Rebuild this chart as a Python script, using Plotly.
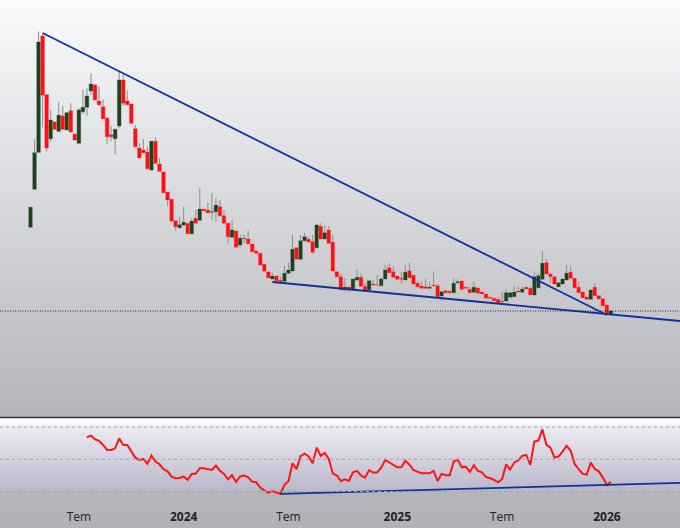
import pandas as pd
import plotly.graph_objects as go

open_px = [190.7, 228.7, 265.7, 382, 323.3, 279.3, 296, 286.7, 302, 288,
           307.3, 284, 274.7, 306.3, 310.7, 327, 333, 317, 311.3, 300,
           283.3, 279.3, 292, 338, 317, 314, 289.3, 270, 268, 266,
           248, 276.7, 254, 246, 226, 218.7, 197.3, 190.3, 193, 194.7,
           184.3, 199.7, 197.7, 208.7, 208, 205.7, 206.3, 211.3, 202.3, 194.7,
           180.7, 187, 173, 179.7, 179, 174, 167, 164.7, 153.7, 146,
           139, 142, 137.7, 136.7, 144.7, 147, 170.3, 158.7, 177.3, 178.7,
           176.3, 170.3, 191.7, 179, 188, 175.7, 146.3, 141.3, 128, 131,
           128, 138, 140.7, 131.7, 128, 134, 133.3, 132.3, 139, 150.3,
           146.3, 142, 139.7, 138, 147.3, 142.7, 134.7, 132, 131.3, 129.7,
           133, 132.3, 122, 127.3, 126.7, 125.3, 135.3, 137, 130.7, 128.7,
           125.7, 130, 126, 124, 120.7, 119.7, 118.7, 116.7, 117, 120.7,
           121.3, 127, 125.7, 130.7, 129.7, 123, 130.3, 138.7, 155.3, 144,
           141.3, 131.3, 134, 138, 145.7, 139.7, 130.7, 126, 121, 118.7,
           130.7, 122.3, 119.3, 113, 103.3]
close_px = [210.7, 265.3, 376, 322.7, 270, 298, 288.7, 302.7, 288.7, 305.3,
            286, 278, 308, 310.7, 322, 334, 318, 313.3, 299.3, 281.3,
            281.3, 288.7, 338, 314.7, 313.3, 294.7, 271.3, 260.3, 265.3, 249.3,
            276.7, 254.7, 246.7, 225.3, 218, 197, 191.3, 193.3, 195.7, 184.3,
            197, 194.7, 209, 207.3, 205.3, 206.3, 213, 202.3, 194.7, 181.3,
            188, 170.7, 179.7, 179, 174.3, 166.3, 164.7, 153, 146.7, 140.3,
            142, 137.3, 136.3, 144.7, 148, 168.7, 158.7, 177.3, 181.3, 176,
            165.7, 193, 179, 185.3, 174.7, 147, 141.3, 128, 131, 128,
            139, 140.7, 131.7, 128, 137.3, 133, 133, 139, 148, 145.3,
            140.7, 138.7, 138.7, 145.7, 140.3, 134, 131.3, 129.7, 129.7, 130.7,
            132.3, 121.3, 126.3, 125.3, 125.3, 134.7, 136.3, 128.7, 129.7, 125.3,
            130.7, 124.7, 124, 119.7, 119.7, 117.3, 114.7, 116, 125.3, 125.3,
            126, 126, 129, 129, 123.3, 141.3, 142.3, 154.7, 144, 141.3,
            134, 135.3, 139, 144.7, 139.7, 130.3, 125.3, 120.3, 118.7, 128,
            122.3, 119, 112.3, 104, 107]
high_px = [210.7, 278.7, 386.3, 384.7, 323.3, 308, 296, 316.3, 312, 305.3,
           314.7, 284, 309.7, 328.7, 329.7, 344.7, 334, 331.3, 318.7, 300,
           292, 288.7, 346.3, 343, 327.3, 314, 292.7, 274.7, 279, 271.3,
           276.7, 280.7, 259.7, 246, 226, 218.7, 197.3, 201.3, 211.3, 194.7,
           199.7, 208, 229.7, 208.7, 215.3, 224.7, 219.7, 218, 208, 194.7,
           198, 187, 183.7, 183, 187, 174, 167, 164.7, 153.7, 146,
           145.3, 142, 141.3, 152, 155.3, 183.7, 170.3, 183, 185.3, 181.3,
           183, 194, 194.7, 193, 192, 183, 146.3, 144.7, 139.7, 131,
           139.7, 148.7, 144.7, 134.7, 137.3, 138, 143, 140.7, 153, 154.7,
           152, 142, 146.3, 153, 155.3, 142.7, 136.3, 136.3, 139.7, 135.3,
           146.3, 134, 126.3, 128, 126.7, 139.7, 138.7, 138, 130.7, 131.3,
           136.3, 130, 126, 124, 120.7, 119.7, 118.7, 126, 128.7, 125.3,
           132, 131.3, 132, 131.3, 131.3, 146.3, 144.7, 167.3, 158.7, 144,
           142, 135.3, 139.7, 153, 151.3, 139.7, 136.3, 126, 121, 128.7,
           134.7, 122.3, 119.3, 113, 107]
low_px = [190.7, 228.7, 265.7, 290.7, 266.3, 276.3, 288, 286.7, 288.7, 288,
          285.3, 277.3, 274.7, 304, 302, 323, 318, 312, 299.3, 273.7,
          276.3, 263.7, 289.7, 312, 313.3, 294.7, 271.3, 259.7, 265.3, 249.3,
          247.3, 254.7, 246.7, 225.3, 212, 197, 187.3, 189.7, 191.3, 184.3,
          184.3, 194, 197.7, 207.3, 205.3, 198, 196.3, 201.3, 194.7, 174.7,
          180.7, 170.7, 170.7, 174.7, 174.3, 166.3, 164.7, 153, 146.7, 139.7,
          139, 137.3, 136.3, 134.7, 144.7, 147, 158.7, 158.7, 176.3, 176,
          164, 170.3, 179, 179, 174.7, 147, 140.7, 128, 126.3, 126.3,
          128, 137.3, 131.7, 128, 128, 133, 131.3, 132.3, 139, 145.3,
          140.7, 138.7, 134, 138, 140.3, 134, 131.3, 129.7, 129.7, 128.7,
          132.3, 121.3, 117.3, 125.3, 124, 125.3, 135.3, 127.3, 129.7, 125.3,
          125.7, 124.7, 124, 119.7, 119.7, 117.3, 114.7, 116, 117, 120.7,
          121.3, 126, 125.7, 129, 123.3, 123, 129.7, 138.7, 144, 134.7,
          134, 131.3, 134, 138, 139.7, 130.3, 125.3, 120.3, 118.7, 118.7,
          122.3, 119, 112.3, 104, 102]

rsi = [63.7, 64.7, 62.4, 61.4, 58.9, 55.8, 55.8, 56.8, 63.0, 58.9,
       58.9, 55.2, 51.0, 49.6, 50.2, 47.3, 52.3, 48.6, 46.9, 43.8,
       42.5, 39.2, 38.2, 38.4, 39.2, 37.2, 40.9, 41.1, 44.4, 44.4,
       43.8, 43.4, 46.1, 42.8, 40.9, 37.6, 40.1, 35.9, 39.4, 39.9,
       38.8, 36.1, 35.7, 32.4, 30.7, 29.3, 30.3, 29.3, 28.5, 34.1,
       36.3, 47.5, 43.8, 51.9, 53.5, 51.7, 47.5, 57.2, 52.1, 53.9,
       50.2, 41.3, 39.9, 36.5,
       37.6, 36.5, 41.9, 42.8, 39.9, 38.6, 43.2, 41.7, 41.7, 44.8,
       49.6, 48.1, 46.5, 45.0, 45.0, 49.0, 46.7, 43.4, 42.3, 41.3,
       41.3, 41.3, 42.8, 36.5, 40.9, 40.1, 40.1, 48.6, 49.8, 45.0,
       45.4, 42.1, 46.3, 42.8, 41.9, 39.0, 38.2, 37.2, 35.7, 37.6,
       46.9, 43.6, 47.9, 49.2, 52.1, 52.7, 46.5, 61.0, 61.6, 68.6,
       58.9, 57.2, 51.0, 51.7, 54.8, 58.3, 55.4, 47.1, 43.8, 40.9,
       40.5, 47.9, 44.0, 42.5, 38.6, 33.9, 36.1]
rsi_levels = [70, 50, 30]

tick_vals = ["2023-07-03", "2024-01-01", "2024-07-01", "2025-01-06", "2025-07-07", "2026-01-05"]
tick_text = ["Tem", "<b>2024</b>", "Tem", "<b>2025</b>", "Tem", "<b>2026</b>"]

# trend lines drawn on the chart
upper_x = ["2023-05-01", "2026-01-05"]
upper_y = [385, 103]
lower_x = ["2024-06-03", "2026-05-12"]
lower_y = [136, 97]
rsi_trend_x = ["2024-06-17", "2026-05-12"]
rsi_trend_y = [28.5, 35.3]

dates = pd.date_range("2023-04-10", periods=len(close_px), freq="7D")
x_range = ["2023-02-16", "2026-05-12"]
H = 528
RED = "#ff1010"
GREEN = "#1e421f"
NAVY = "#10309c"
HALO = "rgba(240,240,244,0.9)"
body_high = [max(a, b) for a, b in zip(open_px, close_px)]
body_low = [min(a, b) for a, b in zip(open_px, close_px)]


def hex_mix(a, b, t):
    ca = [int(a[i:i + 2], 16) for i in (1, 3, 5)]
    cb = [int(b[i:i + 2], 16) for i in (1, 3, 5)]
    return "rgb(%d,%d,%d)" % tuple(round(p + (q - p) * t) for p, q in zip(ca, cb))


def gradient(top_px, bottom_px, top_col, bottom_col, step=3):
    out = []
    y = top_px
    while y < bottom_px:
        t = (y - top_px) / (bottom_px - top_px)
        out.append(dict(type="rect", xref="paper", yref="paper", x0=0, x1=1,
                        y0=1 - min(y + step, bottom_px) / H, y1=1 - y / H,
                        fillcolor=hex_mix(top_col, bottom_col, t),
                        line_width=0, layer="below"))
        y += step
    return out


shapes = []
shapes += gradient(0, 417, "#f9fafc", "#b3b5ba")
shapes += gradient(418, 426, "#ffffff", "#f0eff6", step=2)
shapes += gradient(426, 491, "#eceaf4", "#b8b7c9")
shapes += gradient(491, 528, "#b3b5bb", "#afb1b7")
shapes.append(dict(type="line", xref="paper", yref="paper", x0=0, x1=1,
                   y0=1 - 417.5 / H, y1=1 - 417.5 / H,
                   line=dict(color="#33353a", width=1.5)))
for lvl in rsi_levels:
    shapes.append(dict(type="line", xref="paper", yref="y2", x0=0, x1=1, y0=lvl, y1=lvl,
                       line=dict(color="#a2a2ac", width=1, dash="3px,3px")))
shapes.append(dict(type="line", xref="paper", yref="y", x0=0, x1=1,
                   y0=close_px[-1], y1=close_px[-1],
                   line=dict(color="#222222", width=1, dash="1px,1.5px")))

fig = go.Figure()


def candles(high, low, up_line, down_line, line_w, up_fill, down_fill):
    fig.add_trace(go.Candlestick(
        x=dates, open=open_px, high=high, low=low, close=close_px,
        increasing=dict(line=dict(color=up_line, width=line_w), fillcolor=up_fill),
        decreasing=dict(line=dict(color=down_line, width=line_w), fillcolor=down_fill),
        whiskerwidth=0, xaxis="x", yaxis="y", showlegend=False))


# grey wicks first, then a pale edge, then the solid bodies
candles(high_px, low_px, "#8e8e90", "#8e8e90", 1, "rgba(0,0,0,0)", "rgba(0,0,0,0)")
candles(body_high, body_low, HALO, HALO, 1.0, GREEN, RED)
candles(body_high, body_low, GREEN, RED, 0.3, GREEN, RED)

fig.add_trace(go.Scatter(x=upper_x, y=upper_y, mode="lines", line=dict(color=NAVY, width=1.8),
                         xaxis="x", yaxis="y", showlegend=False))
fig.add_trace(go.Scatter(x=lower_x, y=lower_y, mode="lines", line=dict(color=NAVY, width=1.8),
                         xaxis="x", yaxis="y", showlegend=False))

fig.add_trace(go.Scatter(x=dates[-len(rsi):], y=rsi, mode="lines", line=dict(color="#ff1414", width=2),
                         xaxis="x2", yaxis="y2", showlegend=False))
fig.add_trace(go.Scatter(x=rsi_trend_x, y=rsi_trend_y, mode="lines", line=dict(color=NAVY, width=1.8),
                         xaxis="x2", yaxis="y2", showlegend=False))

fig.update_layout(
    width=680, height=528,
    margin=dict(l=0, r=0, t=0, b=0),
    paper_bgcolor="#b0b2b8", plot_bgcolor="rgba(0,0,0,0)",
    boxmode="overlay", boxgap=0.15, boxgroupgap=0, hovermode=False,
    font=dict(family="Open Sans", size=12, color="#222222"),
    shapes=shapes,
    xaxis=dict(domain=[0, 1], range=x_range, type="date", anchor="y", visible=False,
               rangeslider=dict(visible=False), showgrid=False),
    yaxis=dict(domain=[1 - 417 / H, 1], range=[1, 418], anchor="x", visible=False, showgrid=False),
    xaxis2=dict(domain=[0, 1], range=x_range, type="date", anchor="y2", showgrid=False,
                tickmode="array", tickvals=tick_vals, ticktext=tick_text,
                ticks="outside", ticklen=6, tickcolor="rgba(0,0,0,0)", showline=False, zeroline=False),
    yaxis2=dict(domain=[1 - 500 / H, 1 - 419 / H], range=[24.7, 75], anchor="x2", visible=False, showgrid=False),
)

fig.write_html("out.html", config=dict(displayModeBar=False),
               post_script="document.body.style.margin='0';")
